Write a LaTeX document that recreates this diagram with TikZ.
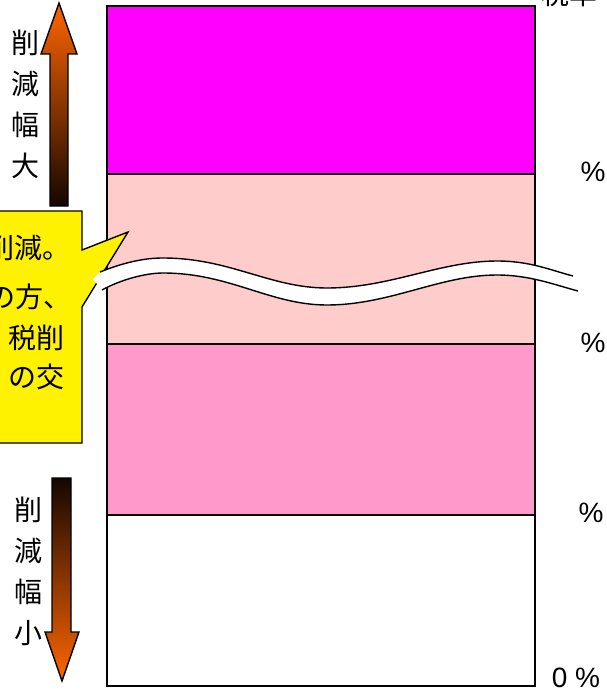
\documentclass[tikz,border=0pt]{standalone}
\usepackage{fontspec}
\setmainfont{Liberation Sans}
\newfontfamily\jpfont{Noto Sans CJK JP}
\usepackage{tikz}
\definecolor{barmag}{HTML}{FF00FF}
\definecolor{barpale}{HTML}{FFCCCC}
\definecolor{barpink}{HTML}{FF99CC}
\definecolor{arrorange}{HTML}{FF6600}
\definecolor{arrdark}{HTML}{140600}
\tikzset{
  taxbar/.style={draw=black, line width=1.6pt},
  sidelbl/.style={font=\jpfont\fontsize{28}{41}\selectfont, align=center, inner sep=0pt},
  notetxt/.style={font=\jpfont\fontsize{28}{30}\selectfont, anchor=east, inner sep=0pt},
  pct/.style={font=\fontsize{28}{30}\selectfont, inner sep=0pt},
  bigarrow/.style={draw=black, line width=1.4pt},
}

\begin{document}
\begin{tikzpicture}[x=1pt, y=-1pt]
\useasboundingbox (0,0) rectangle (607,693);
\clip (0,0) rectangle (607,693);

% the bars
\draw[taxbar, fill=barmag]  (107,6)   rectangle (535,174);
\draw[taxbar, fill=barpale] (107,174) rectangle (535,344);
\draw[taxbar, fill=barpink] (107,344) rectangle (535,515);
\draw[taxbar, fill=white]   (107,515) rectangle (535,686);

\node[pct] (p3) at (593,172) {\%};
\node[pct] (p2) at (593,343) {\%};
\node[pct] (p1) at (591,513) {\%};
\node[pct] (p0) at (576,678) {0 \%};
\node[font=\jpfont\fontsize{28}{30}\selectfont, anchor=west, inner sep=0pt] (rate) at (541,-6) {税率};

% arrows and their labels
\path[bigarrow, top color=arrorange, bottom color=arrdark]
  (59,3) -- (77,54) -- (68,54) -- (68,206) -- (50,206) -- (50,54) -- (41,54) -- cycle;
\path[bigarrow, top color=arrdark, bottom color=arrorange]
  (62,681) -- (79,632) -- (71,632) -- (71,478) -- (52,478) -- (52,632) -- (45,632) -- cycle;
\node[sidelbl] (big) at (25,104) {削\\減\\幅\\大};
\node[sidelbl] (small) at (28,571) {削\\減\\幅\\小};

% callout
\draw[line width=1.4pt, fill=yellow] (-10,211) -- (82,211) -- (82,250) -- (128,232)
  -- (82,307) -- (82,443) -- (-10,443) -- cycle;
\node[notetxt] (n1) at (71,248) {削減。};
\node[notetxt] (n2) at (72,297) {の方、};
\node[notetxt] (n3) at (65,338) {税削};
\node[notetxt] (n4) at (65,377) {の交};

% break mark
\path[fill=white] (100,272) .. controls (125,262) and (145,258) .. (163,258)
  .. controls (230,258) and (270,288) .. (327,288)
  .. controls (390,288) and (440,261) .. (497,261)
  .. controls (530,261) and (550,270) .. (573,276)
  -- (578,291) .. controls (555,285) and (530,275) .. (497,275)
  .. controls (440,275) and (390,305) .. (327,305)
  .. controls (270,305) and (230,273) .. (163,273)
  .. controls (145,273) and (120,280) .. (102,290) -- (93,279) -- cycle;
\draw[line width=1.4pt] (100,272) .. controls (125,262) and (145,258) .. (163,258)
  .. controls (230,258) and (270,288) .. (327,288)
  .. controls (390,288) and (440,261) .. (497,261)
  .. controls (530,261) and (550,270) .. (573,276);
\draw[line width=1.4pt] (102,290) .. controls (120,280) and (145,273) .. (163,273)
  .. controls (230,273) and (270,305) .. (327,305)
  .. controls (390,305) and (440,275) .. (497,275)
  .. controls (530,275) and (555,285) .. (578,291);
\end{tikzpicture}
\end{document}
